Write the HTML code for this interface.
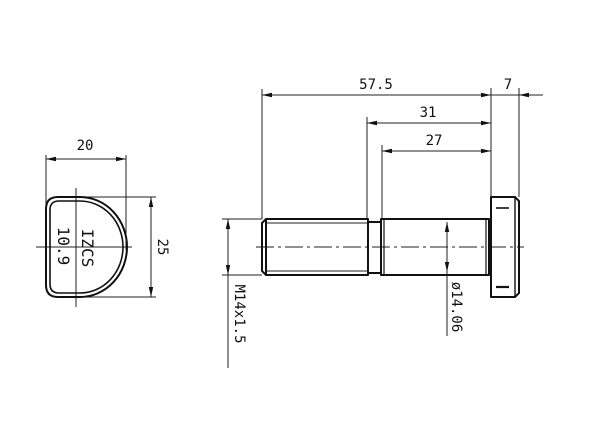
<!DOCTYPE html>
<html><head><meta charset="utf-8"><style>
html,body{margin:0;padding:0;background:#fff;}
svg{display:block;}
text{font-family:"DejaVu Sans Mono","Liberation Mono",monospace;font-size:14px;fill:#111;}
</style></head><body>
<svg width="600" height="427" viewBox="0 0 600 427" xmlns="http://www.w3.org/2000/svg">
<defs>
<marker id="a" viewBox="0 0 10 6" refX="10" refY="3" markerWidth="10" markerHeight="6" orient="auto-start-reverse" markerUnits="userSpaceOnUse">
<path d="M0,0.8 L10,3 L0,5.2 Z" fill="#111"/></marker>
</defs>
<g stroke="#222" stroke-width="1" fill="none">
<!-- left view dims -->
<line x1="46" y1="155" x2="46" y2="250"/>
<line x1="126" y1="155" x2="126" y2="250"/>
<line x1="46" y1="159" x2="126" y2="159" marker-start="url(#a)" marker-end="url(#a)"/>
<line x1="78" y1="197" x2="156" y2="197"/>
<line x1="78" y1="297" x2="156" y2="297"/>
<line x1="151" y1="197" x2="151" y2="297" marker-start="url(#a)" marker-end="url(#a)"/>
<line x1="76" y1="188" x2="76" y2="307"/>
<line x1="36" y1="247" x2="132" y2="247"/>
<!-- bolt ext lines -->
<line x1="262" y1="89" x2="262" y2="219"/>
<line x1="367" y1="117" x2="367" y2="219"/>
<line x1="382" y1="145" x2="382" y2="219"/>
<line x1="491" y1="88" x2="491" y2="197"/>
<line x1="519" y1="88" x2="519" y2="197"/>
<line x1="262" y1="95" x2="491" y2="95" marker-start="url(#a)" marker-end="url(#a)"/>
<line x1="543" y1="95" x2="519" y2="95" marker-end="url(#a)"/>
<line x1="491" y1="95" x2="519" y2="95"/>
<line x1="367" y1="123" x2="491" y2="123" marker-start="url(#a)" marker-end="url(#a)"/>
<line x1="382" y1="151" x2="491" y2="151" marker-start="url(#a)" marker-end="url(#a)"/>
<line x1="222" y1="219" x2="262" y2="219"/>
<line x1="222" y1="275" x2="262" y2="275"/>
<line x1="228" y1="219" x2="228" y2="275" marker-start="url(#a)" marker-end="url(#a)"/>
<line x1="228" y1="275" x2="228" y2="368"/>
<line x1="447" y1="222" x2="447" y2="272" marker-start="url(#a)" marker-end="url(#a)"/>
<line x1="447" y1="272" x2="447" y2="336"/>
<!-- centerline -->
<line x1="256" y1="247" x2="524" y2="247" stroke-dasharray="18,4,3,4"/>
<!-- thin thread lines -->
<line x1="266" y1="223" x2="367" y2="223"/>
<line x1="266" y1="271" x2="367" y2="271"/>
</g>
<g stroke="#111" stroke-width="2" fill="none" stroke-linejoin="round">
<!-- D-shape -->
<path d="M58,197 L80,197 A47,50 0 0 1 80,297 L58,297 Q46,297 46,285 L46,209 Q46,197 58,197 Z"/>
<path d="M59,201 L80,201 A43,46 0 0 1 80,293 L59,293 Q50,293 50,284 L50,210 Q50,201 59,201 Z" stroke-width="1.6"/>
<!-- thread -->
<path d="M266,219 L368,219 L368,275 L266,275 L262,271 L262,223 Z"/>
<line x1="266" y1="219" x2="266" y2="275"/>
<!-- neck -->
<path d="M368,222 L381,222 M368,273 L381,273"/>
<path d="M381,219 L489,219 L489,275 L381,275 Z"/>
<line x1="384" y1="219" x2="384" y2="275" stroke-width="1.2"/>
<line x1="486" y1="219" x2="486" y2="275" stroke-width="1.2"/>
<!-- head -->
<path d="M491,197 L515,197 L519,201 L519,293 L515,297 L491,297 Z"/>
<line x1="515" y1="197" x2="515" y2="297" stroke-width="1.4"/>
<line x1="496" y1="208" x2="509" y2="208" stroke-width="1.6"/>
<line x1="496" y1="287" x2="509" y2="287" stroke-width="2.2"/>
</g>
<text x="85" y="150" text-anchor="middle">20</text>
<text transform="translate(158,247) rotate(90)" text-anchor="middle">25</text>
<text transform="translate(82,248) rotate(90)" text-anchor="middle" font-size="16" style="font-size:16px">IZCS</text>
<text transform="translate(58,246) rotate(90)" text-anchor="middle" style="font-size:16px">10.9</text>
<text x="376" y="89" text-anchor="middle">57.5</text>
<text x="508" y="89" text-anchor="middle">7</text>
<text x="428" y="117" text-anchor="middle">31</text>
<text x="434" y="145" text-anchor="middle">27</text>
<text transform="translate(235,314) rotate(90)" text-anchor="middle">M14x1.5</text>
<text transform="translate(452,307) rotate(90)" text-anchor="middle">ø14.06</text>
</svg>
</body></html>
